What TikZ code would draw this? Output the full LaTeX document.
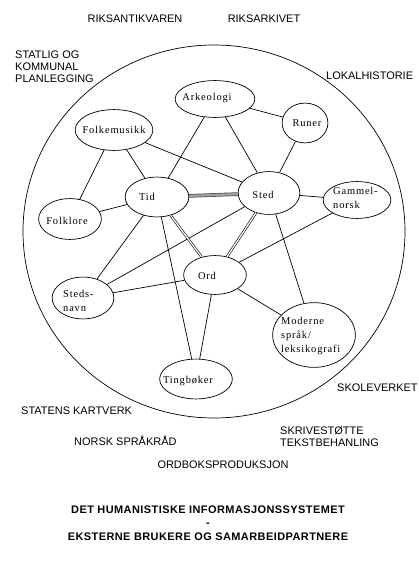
\documentclass[tikz,border=0pt]{standalone}
\usepackage{fontspec}
\usetikzlibrary{shapes.geometric}
\newfontfamily\labfont{Liberation Sans}
\newfontfamily\ttlfont[LetterSpace=4]{Liberation Sans}
\newfontfamily\nodefont[LetterSpace=8]{Liberation Serif}
\begin{document}
\begin{tikzpicture}[x=1bp,y=-1bp,
  bub/.style={draw, ellipse, inner sep=0, line width=0.7bp},
  btxt/.style={font=\nodefont\fontsize{10.5}{14.5}\selectfont, align=left, inner sep=0},
  lab/.style={font=\labfont\fontsize{11}{12}\selectfont, align=left, inner sep=0},
  ttl/.style={font=\ttlfont\bfseries\fontsize{11}{13.8}\selectfont, align=center, inner sep=0},
  link/.style={line width=0.7bp},
  dlink/.style={draw=black, double=white, double distance=1.3bp, line width=0.6bp},
  glink/.style={draw=gray!60!black, double=gray!75, double distance=2.3bp, line width=0.7bp}]
\useasboundingbox (0,0) rectangle (418,565);

% the enclosing circle
\draw[line width=0.7bp] (214,231.5) ellipse [x radius=191, y radius=186.5];

% subject bubbles
\node[bub, minimum width=80, minimum height=37] (ark)  at (215,99)  {};
\node[bub, minimum width=46, minimum height=40] (run)  at (305,123) {};
\node[bub, minimum width=78, minimum height=41] (fmu)  at (114,130) {};
\node[bub, minimum width=64, minimum height=40] (tid)  at (157,197) {};
\node[bub, minimum width=62, minimum height=43] (sted) at (269,193) {};
\node[bub, minimum width=68, minimum height=37] (gam)  at (357,200) {};
\node[bub, minimum width=63, minimum height=41] (flo)  at (70,219)  {};
\node[bub, minimum width=63, minimum height=39] (ord)  at (215,275) {};
\node[bub, minimum width=62, minimum height=42] (sn)   at (83,298)  {};
\node[bub, minimum width=83, minimum height=65] (mod)  at (314,335) {};
\node[bub, minimum width=73, minimum height=40] (ting) at (196,379) {};

% bubble texts
\node[btxt] (ark-t)  at (207,98)  {Arkeologi};
\node[btxt] (run-t)  at (307,123) {Runer};
\node[btxt] (fmu-t)  at (114,130) {Folkemusikk};
\node[btxt] (tid-t)  at (147,197) {Tid};
\node[btxt] (sted-t) at (263,195) {Sted};
\node[btxt, anchor=west] (gam-t) at (333,198) {Gammel-\\norsk};
\node[btxt] (flo-t)  at (67,221)  {Folklore};
\node[btxt] (ord-t)  at (207,276) {Ord};
\node[btxt, anchor=west] (sn-t) at (63,301) {Steds-\\navn};
\node[btxt, anchor=west] (mod-t) at (281,336) {Moderne\\språk/\\leksikografi};
\node[btxt] (ting-t) at (188,381) {Tingbøker};

% connectors
\draw[link] (ark) -- (tid);
\draw[link] (ark) -- (sted);
\draw[link] (ark) -- (run);
\draw[link] (fmu) -- (flo);
\draw[link] (fmu) -- (tid);
\draw[link] (fmu) -- (sted);
\draw[link] (run) -- (sted);
\draw[link] (tid) -- (flo);
\draw[link] (tid) -- (sn);
\draw[link] (tid) -- (ting);
\draw[link] (sted) -- (gam);
\draw[link] (sted) -- (sn);
\draw[link] (sted) -- (mod);
\draw[link] (gam) -- (ord);
\draw[link] (ord) -- (sn);
\draw[link] (ord) -- (mod);
\draw[link] (ord) -- (ting);
\draw[glink] (tid) -- (sted);
\draw[dlink] (tid) -- (ord);
\draw[dlink] (sted) -- (ord);

% external users and partners
\node[lab] (l1) at (135,19) {RIKSANTIKVAREN};
\node[lab] (l2) at (264,19) {RIKSARKIVET};
\node[lab, anchor=west] (l3) at (15,67) {STATLIG OG\\KOMMUNAL\\PLANLEGGING};
\node[lab, anchor=west] (l4) at (326,76) {LOKALHISTORIE};
\node[lab, anchor=west] (l5) at (337,388) {SKOLEVERKET};
\node[lab, anchor=west] (l6) at (21,411) {STATENS KARTVERK};
\node[lab, anchor=west] (l7) at (280,436.5) {SKRIVESTØTTE\\TEKSTBEHANLING};
\node[lab, anchor=west] (l8) at (74,441) {NORSK SPRÅKRÅD};
\node[lab] (l9) at (223,465) {ORDBOKSPRODUKSJON};

% title
\node[ttl] (title) at (208,523) {DET HUMANISTISKE INFORMASJONSSYSTEMET\\-\\EKSTERNE BRUKERE OG SAMARBEIDPARTNERE};
\end{tikzpicture}
\end{document}
